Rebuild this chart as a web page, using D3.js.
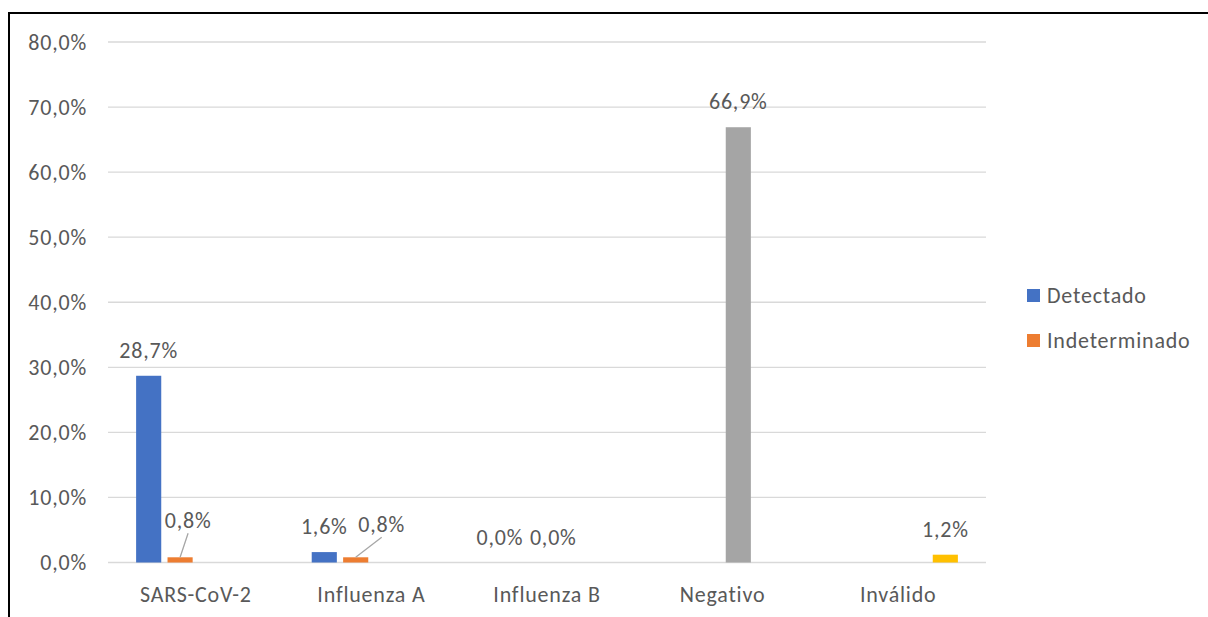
<!DOCTYPE html>
<html>
<head>
<meta charset="utf-8">
<script src="https://cdn.jsdelivr.net/npm/d3@7"></script>
<style>
  html, body { margin: 0; padding: 0; background: #fff; }
  svg { display: block; }
  text { font-family: Calibri, Carlito, Lato, "Open Sans", sans-serif; fill: #595959; letter-spacing: 0.8px; }
</style>
</head>
<body>
<svg id="chart" width="1208" height="617"></svg>
<script>
// Categories and series (percent of samples)
const categories = ["SARS-CoV-2", "Influenza A", "Influenza B", "Negativo", "Inválido"];
const seriesNames = ["Detectado", "Indeterminado", "Negativo", "Inválido"];
const detectado     = [28.7, 1.6, 0.0, null, null];
const indeterminado = [0.8, 0.8, 0.0, null, null];
const negativo      = [null, null, null, 66.9, null];
const invalido      = [null, null, null, null, 1.2];
const yTicks = [0, 10, 20, 30, 40, 50, 60, 70, 80];
const legendNames = ["Detectado", "Indeterminado"];

const seriesValues = [detectado, indeterminado, negativo, invalido];
const colors = { "Detectado": "#4472C4", "Indeterminado": "#ED7D31", "Negativo": "#A5A5A5", "Inválido": "#FFC000" };

// Labels that were dragged off their bars (offset in px, with a leader line)
const labelMoves = {
  "Indeterminado|SARS-CoV-2": { dx: 8, dy: 1, leader: true },
  "Indeterminado|Influenza A": { dx: 26, dy: 5, leader: true },
  "Indeterminado|Influenza B": { dx: 22, dy: 0, leader: false }
};

const fmt = v => d3.format(".1f")(v).replace(".", ",") + "%";
const FS = 22;

const svg = d3.select("#chart");

// outer frame
svg.append("rect")
  .attr("x", 9).attr("y", 13).attr("width", 1220).attr("height", 640)
  .attr("fill", "none").attr("stroke", "#000").attr("stroke-width", 2);

const plot = { left: 108, right: 986, top: 42, bottom: 562.5 };

const x0 = d3.scaleBand().domain(categories).range([plot.left, plot.right]).padding(0);
const x1 = d3.scaleBand().domain(seriesNames).range([0, x0.bandwidth()])
  .paddingInner(0.2).paddingOuter(0.895);
const y = d3.scaleLinear().domain([0, 80]).range([plot.bottom, plot.top]);

// gridlines
svg.append("g")
  .selectAll("line").data(yTicks).join("line")
  .attr("x1", plot.left).attr("x2", plot.right)
  .attr("y1", d => y(d)).attr("y2", d => y(d))
  .attr("stroke", "#D9D9D9").attr("stroke-width", 1.3);

// y axis labels
const yAxis = d3.axisLeft(y).tickValues(yTicks).tickSize(0).tickPadding(0).tickFormat(fmt);
const gy = svg.append("g").attr("transform", `translate(87,0)`).call(yAxis);
gy.select(".domain").remove();
gy.selectAll("text").attr("font-size", FS).attr("fill", "#595959")
  .style("font-family", "Calibri, Carlito, Lato, sans-serif");

// x axis labels
const xAxis = d3.axisBottom(x0).tickSize(0).tickPadding(0);
const gx = svg.append("g").attr("transform", `translate(0,${plot.bottom})`).call(xAxis);
gx.select(".domain").remove();
gx.selectAll("text").attr("font-size", FS).attr("fill", "#595959").attr("dy", null).attr("y", 39)
  .style("font-family", "Calibri, Carlito, Lato, sans-serif");

// bars
const points = [];
seriesNames.forEach((s, si) => {
  categories.forEach((c, ci) => {
    const v = seriesValues[si][ci];
    if (v !== null) points.push({ series: s, cat: c, value: v });
  });
});

svg.append("g").selectAll("rect").data(points).join("rect")
  .attr("x", d => x0(d.cat) + x1(d.series))
  .attr("width", x1.bandwidth())
  .attr("y", d => y(d.value))
  .attr("height", d => y(0) - y(d.value))
  .attr("fill", d => colors[d.series]);

// data labels
const lbl = svg.append("g");
points.forEach(d => {
  const cx = x0(d.cat) + x1(d.series) + x1.bandwidth() / 2;
  const top = y(d.value);
  const mv = labelMoves[d.series + "|" + d.cat] || { dx: 0, dy: 0, leader: false };
  const lx = cx + mv.dx;
  const ly = top - 18 + mv.dy - (mv.leader ? 12 : 0);
  if (mv.leader) {
    lbl.append("line")
      .attr("x1", cx).attr("y1", top)
      .attr("x2", lx).attr("y2", ly + 5)
      .attr("stroke", "#A6A6A6").attr("stroke-width", 1.3);
  }
  lbl.append("text")
    .attr("x", lx).attr("y", ly)
    .attr("text-anchor", "middle")
    .attr("font-size", FS)
    .attr("fill", "#404040")
    .text(fmt(d.value));
});

// legend
const leg = svg.append("g").attr("transform", "translate(1027,289)");
const li = leg.selectAll("g").data(legendNames).join("g")
  .attr("transform", (d, i) => `translate(0,${i * 45})`);
li.append("rect").attr("width", 13).attr("height", 13).attr("fill", d => colors[d]);
li.append("text").attr("x", 20).attr("y", 6.5).attr("dy", "0.35em")
  .attr("font-size", FS).attr("fill", "#595959").text(d => d);
</script>
</body>
</html>
